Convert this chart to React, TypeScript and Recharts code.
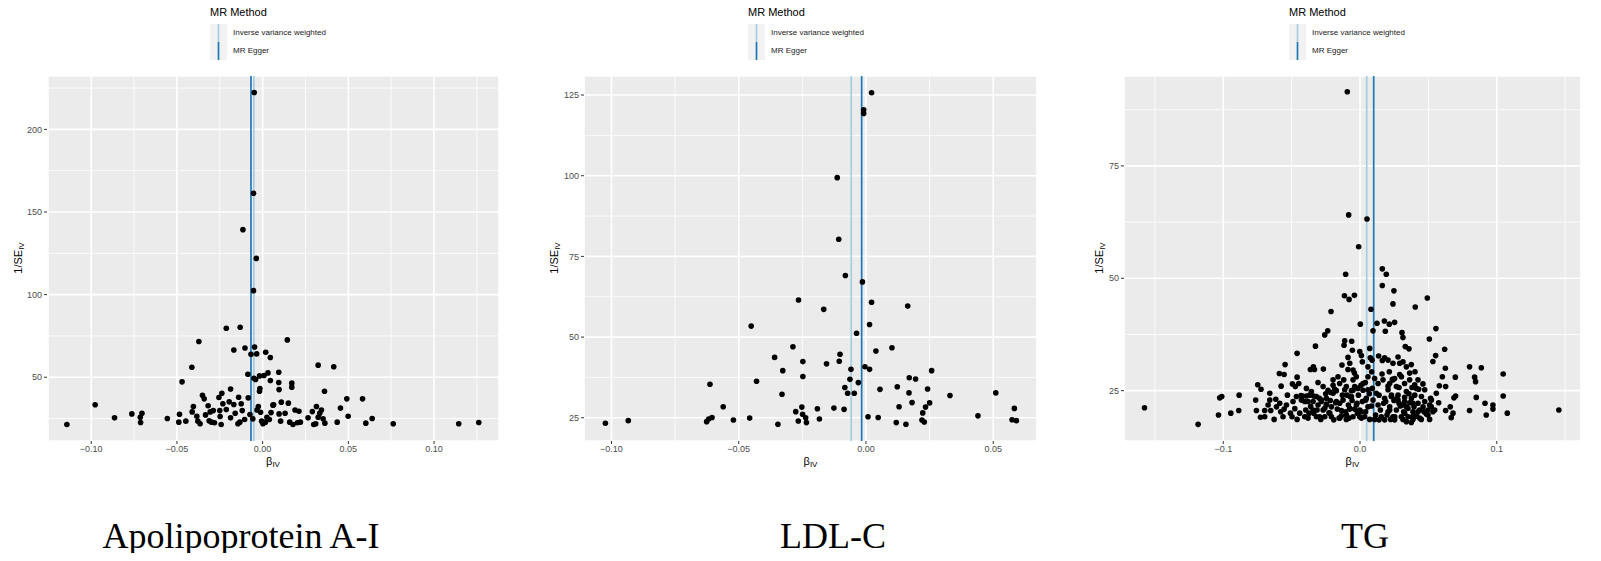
import { ScatterChart, Scatter, XAxis, YAxis, CartesianGrid, ReferenceLine, Legend } from 'recharts';

// MR methods shown as vertical lines
const methods = [
  { name: 'Inverse variance weighted', color: '#A6CEE3' },
  { name: 'MR Egger', color: '#1F78B4' },
];

const panelTitles = ['Apolipoprotein A-I', 'LDL-C', 'TG'];

// [beta_IV, 1/SE_IV]
const apoPoints: [number, number][] = [
  [-0.0049, 222.3], [-0.0053, 161.3], [-0.0115, 139.3], [-0.0037, 121.9], [-0.0053, 102.4],
  [-0.0212, 79.6], [-0.0131, 80.2], [-0.0372, 71.6], [0.0144, 72.6], [-0.0168, 66.5], [-0.0103, 67.7],
  [-0.0047, 68.3], [-0.0068, 63.9], [-0.0035, 64.1], [0.0018, 65.1], [0.0045, 61.9], [-0.0413, 56.0],
  [0.0324, 57.3], [0.0415, 56.3], [-0.0086, 51.8], [-0.0051, 49.4], [-0.0041, 48.6], [-0.0018, 50.8],
  [0.0008, 51.0], [0.0031, 52.6], [0.0094, 53.0], [0.0045, 48.0], [0.0094, 46.8], [0.017, 46.4],
  [0.017, 44.0], [0.0096, 42.5], [-0.0016, 43.1], [-0.0018, 41.5], [-0.047, 47.2], [0.0361, 41.5],
  [-0.0187, 42.9], [-0.0238, 40.3], [-0.0351, 39.1], [-0.0341, 36.9], [-0.0255, 37.7], [-0.014, 37.9],
  [-0.0084, 37.5], [0.0491, 36.9], [0.0583, 36.9], [0.0109, 34.9], [0.015, 34.3], [-0.0977, 33.3],
  [-0.0232, 33.9], [-0.0195, 35.1], [-0.0168, 33.5], [-0.0125, 33.9], [-0.0404, 32.3], [-0.0318, 32.7],
  [-0.0025, 32.3], [0.006, 33.1], [0.0314, 32.3], [0.0454, 31.3], [-0.0864, 25.4], [-0.0763, 27.8],
  [-0.0704, 28.2], [-0.0714, 25.8], [-0.0712, 22.6], [-0.0556, 25.0], [-0.0485, 27.6], [-0.0489, 22.8],
  [-0.0448, 23.4], [-0.0411, 29.0], [-0.0384, 26.4], [-0.0378, 23.4], [-0.0365, 21.8], [-0.0333, 27.2],
  [-0.0306, 29.0], [-0.0312, 23.6], [-0.0298, 22.8], [-0.0281, 22.4], [-0.0288, 29.8], [-0.0248, 26.2],
  [-0.0242, 21.4], [-0.025, 29.8], [-0.0212, 30.4], [-0.0187, 25.4], [-0.016, 28.2], [-0.0144, 21.8],
  [-0.0133, 22.8], [-0.0119, 29.8], [-0.0105, 24.4], [-0.0074, 27.4], [-0.0057, 24.8], [-0.0033, 30.2],
  [-0.0012, 28.8], [-0.0006, 23.4], [0.0002, 21.8], [0.0016, 22.8], [0.0025, 25.8], [0.0039, 24.4],
  [0.0049, 28.6], [0.0064, 33.3], [0.0096, 27.8], [0.0105, 23.4], [0.0131, 28.2], [0.0158, 22.8],
  [0.0177, 21.4], [0.0189, 30.2], [0.0203, 22.4], [0.0212, 29.4], [0.022, 22.8], [0.0265, 25.4],
  [0.029, 29.2], [0.0298, 21.4], [0.031, 21.8], [0.0324, 25.8], [0.0333, 28.2], [0.0343, 30.2],
  [0.0353, 24.8], [0.0363, 22.2], [0.0435, 22.8], [0.0499, 26.4], [0.0602, 22.2], [0.0639, 25.0],
  [0.0762, 21.8], [0.1144, 21.8], [0.1261, 22.6], [-0.1142, 21.4],
];

const ldlPoints: [number, number][] = [
  [0.0022, 125.7], [-0.0009, 120.4], [-0.0009, 119.3], [-0.0113, 99.4], [-0.0107, 80.3], [-0.0081, 69.1],
  [-0.0014, 67.1], [-0.0265, 61.5], [0.0022, 60.8], [-0.0166, 58.6], [0.0164, 59.6], [-0.0451, 53.4],
  [0.0014, 53.9], [-0.0037, 51.2], [-0.0287, 47.0], [0.0102, 46.7], [0.0039, 45.7], [-0.0359, 43.7],
  [-0.0102, 44.7], [-0.0105, 42.5], [-0.0248, 42.4], [-0.0155, 41.7], [-0.0004, 40.8], [-0.0059, 40.0],
  [0.0014, 40.0], [0.0258, 39.6], [-0.0327, 39.6], [-0.0248, 37.8], [-0.043, 36.3], [0.017, 37.4],
  [0.0195, 37.0], [-0.0613, 35.4], [-0.0063, 36.9], [-0.003, 35.9], [-0.0083, 34.4], [0.0123, 34.6],
  [0.0055, 33.8], [0.0242, 33.9], [-0.033, 32.3], [-0.0072, 32.6], [-0.0046, 32.6], [0.0169, 32.7],
  [0.051, 32.7], [0.033, 31.9], [-0.0561, 28.4], [0.0181, 29.7], [0.025, 29.6], [0.013, 28.4],
  [0.0234, 28.3], [0.0583, 27.9], [-0.0252, 28.3], [-0.0191, 27.8], [-0.0126, 28.0], [-0.0086, 27.6],
  [-0.0276, 26.9], [-0.0249, 26.1], [0.0223, 26.5], [0.044, 25.6], [-0.0605, 25.1], [-0.0618, 24.6],
  [-0.0626, 23.8], [-0.0521, 24.3], [-0.0457, 24.9], [-0.0237, 25.0], [-0.0183, 24.6], [-0.0266, 24.0],
  [-0.0234, 23.5], [-0.0346, 23.0], [0.0008, 25.3], [0.0048, 25.1], [0.0119, 23.5], [0.0157, 23.0],
  [0.022, 24.3], [0.0229, 23.7], [0.0574, 24.4], [0.0591, 24.1], [-0.1024, 23.3], [-0.0934, 24.1],
];

const tgPoints: [number, number][] = [
  [-0.0093, 91.5], [-0.0083, 64.1], [0.0051, 63.2], [-0.001, 57.0], [-0.0105, 50.9], [0.0163, 52.1],
  [0.0192, 50.9], [0.0163, 48.4], [0.0248, 47.2], [-0.0114, 46.1], [-0.008, 45.3], [-0.0041, 46.2],
  [0.0241, 44.3], [0.0492, 45.6], [0.0404, 43.6], [0.008, 43.1], [-0.0212, 42.6], [0.0002, 39.8],
  [0.0124, 40.0], [0.0178, 40.5], [0.0214, 39.8], [0.0253, 40.2], [0.0095, 38.3], [0.0185, 38.2],
  [-0.0236, 38.3], [-0.0258, 37.4], [0.0307, 37.9], [0.0314, 36.8], [0.0555, 38.8], [0.0507, 36.5],
  [-0.0112, 36.1], [-0.0061, 36.0], [-0.0117, 35.1], [-0.0326, 34.9], [0.0331, 34.8], [0.0358, 34.3],
  [0.0071, 34.4], [-0.046, 33.3], [-0.0056, 34.0], [-0.0002, 33.7], [0.0619, 34.2], [-0.0088, 32.4],
  [0.001, 32.8], [0.0075, 32.3], [0.0136, 32.7], [0.018, 32.3], [0.0278, 32.5], [0.0553, 32.8],
  [0.0533, 31.5], [-0.0132, 30.7], [-0.0075, 31.1], [0.0017, 31.4], [0.0088, 31.8], [0.0163, 31.7],
  [0.0241, 31.1], [0.0314, 31.4], [0.0375, 30.8], [0.0624, 30.0], [0.0801, 30.3], [0.0887, 30.1],
  [-0.0548, 30.8], [-0.059, 28.8], [-0.0555, 28.6], [-0.046, 28.0], [-0.0341, 30.3], [-0.0333, 29.7],
  [-0.0363, 29.7], [-0.0268, 29.8], [-0.0307, 26.8], [-0.0088, 29.7], [-0.0041, 28.9], [0.0085, 29.2],
  [0.0161, 28.7], [0.0214, 29.2], [0.029, 28.6], [0.0402, 29.2], [0.0602, 28.1], [0.0697, 28.0],
  [0.0838, 28.0], [0.0845, 27.0], [0.1047, 28.7], [-0.0161, 28.1], [-0.0119, 27.4], [-0.0027, 28.1],
  [0.0039, 26.8], [0.0107, 27.7], [0.0236, 27.5], [0.0363, 27.4], [0.046, 26.5], [-0.0748, 26.3],
  [-0.0724, 25.3], [-0.0577, 26.0], [-0.0494, 26.5], [-0.0473, 25.9], [-0.0448, 26.6], [-0.0197, 26.2],
  [-0.0185, 25.3], [-0.01, 25.9], [-0.0063, 25.0], [0.0007, 26.2], [0.009, 25.5], [0.0205, 26.0],
  [0.0285, 25.7], [0.038, 25.7], [0.0429, 25.3], [0.058, 26.1], [0.0626, 25.9], [0.0699, 23.8],
  [0.0687, 23.4], [0.085, 23.5], [0.1047, 23.8], [-0.1026, 23.4], [-0.1011, 23.7], [-0.0884, 24.0],
  [-0.0763, 22.9], [-0.066, 24.4], [-0.0616, 23.1], [-0.0531, 24.0], [-0.0431, 23.9], [-0.0392, 23.8],
  [-0.0339, 23.8], [-0.0297, 23.3], [-0.0251, 24.3], [-0.0214, 24.6], [-0.0173, 25.0], [-0.0129, 24.0],
  [-0.0073, 23.7], [-0.0012, 24.0], [0.0068, 24.3], [0.0139, 24.0], [0.018, 23.3], [0.0229, 23.7],
  [0.0266, 23.2], [0.0326, 23.5], [0.0358, 24.3], [0.04, 24.0], [0.0516, 23.3], [0.0558, 24.4],
  [-0.1576, 21.2], [-0.1184, 17.5], [-0.1035, 19.6], [-0.0945, 20.0], [-0.0887, 20.6], [-0.0758, 20.6],
  [-0.0728, 19.1], [-0.0697, 20.6], [-0.0672, 21.8], [-0.0653, 20.6], [-0.0628, 18.6], [-0.0587, 22.2],
  [-0.058, 20.3], [-0.0555, 20.9], [-0.0497, 19.2], [-0.046, 18.6], [-0.0477, 21.0], [-0.0429, 22.9],
  [-0.0397, 20.7], [-0.038, 18.9], [-0.0361, 21.5], [-0.0339, 20.0], [-0.0319, 19.2], [-0.0287, 18.6],
  [-0.027, 20.7], [-0.0246, 21.8], [-0.0227, 20.1], [-0.0192, 18.5], [-0.0166, 20.9], [-0.0149, 22.2],
  [-0.0136, 19.4], [-0.0105, 20.3], [-0.01, 18.6], [-0.0085, 21.8], [-0.0058, 22.8], [-0.0039, 20.9],
  [-0.0022, 22.2], [0.001, 18.9], [0.0017, 22.6], [0.0041, 20.3], [0.0071, 18.6], [0.0083, 21.6],
  [0.0114, 19.6], [0.0139, 18.5], [0.0149, 20.7], [0.0173, 22.2], [0.0197, 19.6], [0.0217, 21.4],
  [0.0241, 19.2], [0.0266, 20.7], [0.0285, 22.2], [0.0302, 19.2], [0.0319, 20.3], [0.0339, 21.4],
  [0.0351, 19.2], [0.0375, 17.9], [0.0387, 20.3], [0.0412, 19.4], [0.0424, 22.2], [0.0468, 20.3],
  [0.0485, 19.8], [0.0509, 18.6], [0.0521, 21.4], [0.0533, 20.3], [0.0575, 22.3], [0.0626, 20.6],
  [0.066, 21.4], [0.0667, 19.0], [0.068, 20.0], [0.0801, 20.6], [0.0914, 22.2], [0.0923, 19.6],
  [0.0972, 21.8], [0.0972, 20.9], [0.1077, 20.0], [0.1454, 20.7],
  [-0.0421, 23.8], [-0.038, 22.6], [-0.0343, 22.6], [-0.0307, 21.8], [-0.0283, 22.6], [-0.0246, 23.3],
  [-0.0217, 22.8], [-0.0178, 22.3], [-0.0124, 22.9], [-0.0095, 24.0], [-0.0076, 21.1], [-0.0051, 25.1],
  [-0.0019, 20.0], [0.0022, 25.1], [0.0046, 23.3], [0.0058, 21.4], [0.0095, 22.9], [0.0119, 24.4],
  [0.0132, 21.8], [0.0156, 19.2], [0.0188, 22.6], [0.0205, 20.3], [0.0224, 18.6], [0.0248, 22.8],
  [0.0278, 24.0], [0.0295, 21.6], [0.0326, 22.6], [0.0363, 22.3], [0.0382, 19.2], [0.0395, 21.4],
  [0.0436, 20.7], [0.0448, 18.6], [0.0473, 22.6], [0.0497, 20.7], [-0.049, 22.6], [-0.0465, 23.7],
  [-0.0441, 20.0], [-0.0404, 19.2], [-0.0373, 20.0], [-0.0314, 20.7], [-0.0258, 19.2], [-0.0209, 19.2],
  [-0.0153, 18.9], [-0.008, 18.9], [-0.0051, 19.2], [-0.0002, 20.7], [0.0034, 19.2], [0.0107, 18.6],
  [0.018, 18.5], [0.0253, 18.5], [0.0314, 18.6], [0.0339, 18.1], [0.0387, 18.6], [0.0436, 18.9],
  [0.0509, 21.8], [-0.0611, 21.4], [-0.0563, 19.2], [-0.0538, 21.8], [-0.0697, 19.2], [-0.066, 22.9],
  [-0.0509, 20.0], [-0.0197, 27.4], [-0.0149, 26.6], [-0.0051, 27.4], [-0.0015, 25.5], [0.0058, 28.1],
  [0.0132, 26.6], [0.0168, 27.4], [0.0217, 26.6], [0.0253, 27.7], [0.0326, 26.6], [0.04, 26.3],
  [0.0424, 27.4], [-0.027, 25.9], [-0.0234, 25.1], [-0.0392, 25.5], [-0.0356, 24.8], [0.0058, 30.3],
  [-0.0051, 29.6], [0.0339, 30.3],
  [-0.0368, 24.0], [-0.0319, 23.7], [-0.0282, 22.9], [-0.0246, 22.0], [-0.0209, 21.4], [-0.0173, 22.6],
  [-0.0136, 20.6], [-0.0099, 19.6], [-0.0063, 23.7], [-0.0026, 21.8], [0.001, 20.3], [0.0042, 22.9],
  [-0.0344, 20.7], [-0.0295, 19.2], [-0.0221, 20.0], [-0.0148, 18.9], [-0.0075, 20.9], [-0.0002, 19.2],
  [-0.0112, 25.2], [-0.0039, 25.9], [0.0022, 26.6], [0.0058, 25.2], [-0.0197, 24.4], [-0.0258, 21.1],
  [-0.0404, 22.6], [0.023, 24.0], [0.0278, 22.9], [0.0314, 21.8], [0.0351, 21.1], [0.0387, 22.2],
  [0.0424, 20.3], [0.0461, 21.4], [0.0497, 19.6], [0.0217, 20.7], [0.0254, 19.2], [0.0327, 20.0],
  [0.04, 19.2], [0.0205, 25.2], [0.0266, 25.9], [0.0339, 24.8], [0.0412, 25.5], [0.0473, 25.2],
  [0.0241, 27.4], [0.0303, 28.1], [0.0363, 28.9], [0.029, 31.1], [0.0205, 31.8], [0.0376, 23.3],
  [0.0449, 23.7], [0.0522, 22.9], [0.0546, 20.7],
];

// method estimates [IVW, MR Egger]
const apoEstimates = [-0.0051, -0.0068];
const ldlEstimates = [-0.0058, -0.0017];
const tgEstimates = [0.0049, 0.01];

const apoXTicks = [-0.1, -0.05, 0, 0.05, 0.1];
const apoXMinor = [-0.125, -0.075, -0.025, 0.025, 0.075, 0.125];
const apoYTicks = [50, 100, 150, 200];
const apoYMinor = [25, 75, 125, 175, 225];

const ldlXTicks = [-0.1, -0.05, 0, 0.05];
const ldlXMinor = [-0.075, -0.025, 0.025];
const ldlYTicks = [25, 50, 75, 100, 125];
const ldlYMinor = [37.5, 62.5, 87.5, 112.5];

const tgXTicks = [-0.1, 0, 0.1];
const tgXMinor = [-0.15, -0.05, 0.05, 0.15];
const tgYTicks = [25, 50, 75];
const tgYMinor = [37.5, 62.5, 87.5];

const sans = '"Liberation Sans", Arial, Helvetica, sans-serif';
const serif = '"Liberation Serif", "Times New Roman", serif';
const CHART_H = 480;

const panels = [
  {
    title: panelTitles[0], points: apoPoints, est: apoEstimates,
    xDomain: [-0.1258, 0.1379], yDomain: [11.4, 232.3],
    xTicks: apoXTicks, xMinor: apoXMinor, yTicks: apoYTicks, yMinor: apoYMinor, digits: 2,
    left: 0, width: 530, margin: { top: 76, right: 31, bottom: 19, left: 7 },
    legendLeft: 210, yTitleX: 22, titleX: 241,
  },
  {
    title: panelTitles[1], points: ldlPoints, est: ldlEstimates,
    xDomain: [-0.1108, 0.0672], yDomain: [17.8, 130.9],
    xTicks: ldlXTicks, xMinor: ldlXMinor, yTicks: ldlYTicks, yMinor: ldlYMinor, digits: 2,
    left: 530, width: 530, margin: { top: 76, right: 23, bottom: 19, left: 14 },
    legendLeft: 218, yTitleX: 28, titleX: 833,
  },
  {
    title: panelTitles[2], points: tgPoints, est: tgEstimates,
    xDomain: [-0.1726, 0.1616], yDomain: [13.8, 95],
    xTicks: tgXTicks, xMinor: tgXMinor, yTicks: tgYTicks, yMinor: tgYMinor, digits: 1,
    left: 1060, width: 541, margin: { top: 76, right: 20, bottom: 19, left: 24 },
    legendLeft: 229, yTitleX: 43, titleX: 1365,
  },
];

const MethodLegend = () => (
  <div style={{ fontFamily: sans, color: '#000' }}>
    <div style={{ fontSize: 11, lineHeight: '13px', height: 13, marginBottom: 5, whiteSpace: 'nowrap' }}>MR Method</div>
    <div style={{ display: 'flex' }}>
      <svg width={17} height={36} style={{ display: 'block' }}>
        <rect x={0} y={0} width={17} height={36} fill="#F2F2F2" />
        {methods.map((m, i) => (
          <line key={m.name} x1={8.5} x2={8.5} y1={i * 18} y2={i * 18 + 18} stroke={m.color} strokeWidth={1.7} />
        ))}
      </svg>
      <div style={{ marginLeft: 6 }}>
        {methods.map((m) => (
          <div key={m.name} style={{ fontSize: 8, lineHeight: '18px', height: 18, whiteSpace: 'nowrap', color: '#1A1A1A' }}>
            {m.name}
          </div>
        ))}
      </div>
    </div>
  </div>
);

const fmt = (digits: number) => (v: number) => v.toFixed(digits).replace('-', '\u2212');

const Dot = (props: any) => <circle cx={props.cx} cy={props.cy} r={2.8} fill="#000000" />;

function FunnelPanel({ p }: { p: (typeof panels)[number] }) {
  const data = p.points.map(([beta, invSe]) => ({ beta, invSe }));
  return (
    <div style={{ position: 'absolute', left: p.left, top: 0 }}>
      <ScatterChart width={p.width} height={CHART_H} margin={p.margin}>
        <CartesianGrid
          fill="#EBEBEB"
          stroke="#FFFFFF"
          strokeWidth={0.8}
          verticalValues={p.xMinor}
          horizontalValues={p.yMinor}
        />
        <CartesianGrid stroke="#FFFFFF" strokeWidth={1.6} />
        <XAxis
          type="number"
          dataKey="beta"
          domain={p.xDomain}
          ticks={p.xTicks}
          allowDataOverflow
          height={20}
          axisLine={false}
          tickLine={{ stroke: '#333333' }}
          tickSize={3}
          tick={{ fill: '#4D4D4D', fontSize: 9, fontFamily: sans }}
          tickFormatter={fmt(p.digits)}
          label={{
            content: (props: any) => {
              const vb = props.viewBox || { x: p.margin.left + 40, width: p.width - p.margin.left - 40 - p.margin.right };
              return (
                <text x={vb.x + vb.width / 2} y={465} textAnchor="middle" fontFamily={sans} fontSize={11} fill="#000">
                  β<tspan fontSize={8} dy={2}>IV</tspan>
                </text>
              );
            },
          }}
        />
        <YAxis
          type="number"
          dataKey="invSe"
          domain={p.yDomain}
          ticks={p.yTicks}
          allowDataOverflow
          width={40}
          axisLine={false}
          tickLine={{ stroke: '#333333' }}
          tickSize={3}
          tick={{ fill: '#4D4D4D', fontSize: 9, fontFamily: sans }}
          label={{
            content: () => (
              <text
                x={0}
                y={0}
                transform={`translate(${p.yTitleX}, 258) rotate(-90)`}
                textAnchor="middle"
                fontFamily={sans}
                fontSize={11}
                fill="#000"
              >
                1/SE<tspan fontSize={8} dy={2}>IV</tspan>
              </text>
            ),
          }}
        />
        <Legend
          layout="vertical"
          align="center"
          verticalAlign="middle"
          content={() => <MethodLegend />}
          wrapperStyle={{ left: p.legendLeft, top: 6, width: 'auto', height: 'auto' }}
        />
        <Scatter data={data} fill="#000000" shape={Dot} isAnimationActive={false} />
        {methods.map((m, i) => (
          <ReferenceLine key={m.name} x={p.est[i]} stroke={m.color} strokeWidth={1.7} ifOverflow="hidden" />
        ))}
      </ScatterChart>
    </div>
  );
}

export default function App() {
  return (
    <div style={{ position: 'relative', width: 1601, height: 561, margin: -8, background: '#FFFFFF', overflow: 'hidden' }}>
      {panels.map((p) => (
        <FunnelPanel key={p.title} p={p} />
      ))}
      {panels.map((p) => (
        <div
          key={`t-${p.title}`}
          style={{
            position: 'absolute',
            left: p.titleX - 250,
            width: 500,
            top: 518,
            textAlign: 'center',
            fontFamily: serif,
            fontSize: 36,
            lineHeight: '36px',
            color: '#000',
            whiteSpace: 'nowrap',
          }}
        >
          {p.title}
        </div>
      ))}
    </div>
  );
}
